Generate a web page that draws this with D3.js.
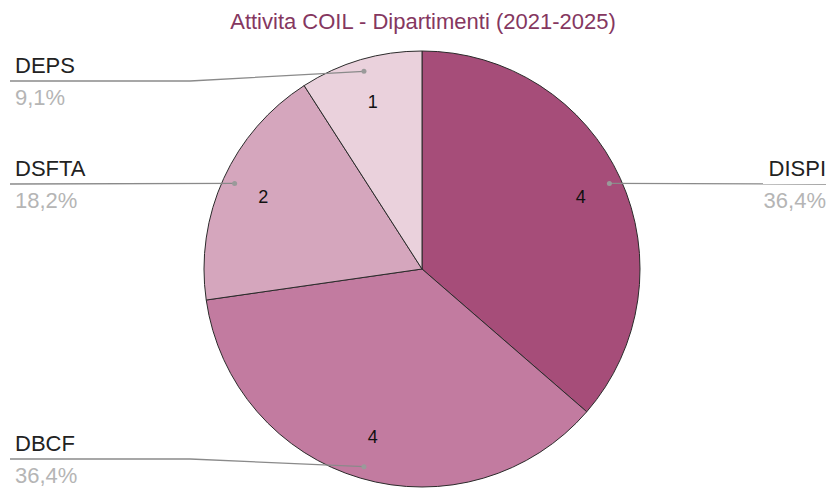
<!DOCTYPE html>
<html>
<head>
<meta charset="utf-8">
<script src="https://cdn.jsdelivr.net/npm/d3@7"></script>
<style>
  body { margin: 0; background: #fff; }
  svg { display: block; font-family: "Liberation Sans", Arial, sans-serif; }
</style>
</head>
<body>
<div id="chart"></div>
<script>
"use strict"

// data
let categories = ["DISPI", "DBCF", "DSFTA", "DEPS"];
let values = [4, 4, 2, 1];
let colors = ["#a64d79", "#c27ba0", "#d5a6bd", "#ead1dc"];
let title = "Attivita COIL - Dipartimenti (2021-2025)";

let width = 831, height = 488;
let cx = 422, cy = 269, radius = 218;

let drawing = d3.select("#chart")
    .append("svg")
    .attr("width", width)
    .attr("height", height);

/* title */
drawing.append("text")
    .attr("x", 423)
    .attr("y", 29)
    .attr("text-anchor", "middle")
    .attr("font-size", 22)
    .attr("fill", "#85375f")
    .text(title);

let total = d3.sum(values);
let pie = d3.pie().sort(null).value(d => d);
let arcs = pie(values);

let arc = d3.arc().innerRadius(0).outerRadius(radius);
let labelArc = d3.arc().innerRadius(radius * 0.8).outerRadius(radius * 0.8);
let dotArc = d3.arc().innerRadius(radius - 12).outerRadius(radius - 12);

let pieGroup = drawing.append("g")
    .attr("transform", "translate(" + cx + "," + cy + ")");

pieGroup.selectAll("path")
    .data(arcs)
    .enter()
    .append("path")
    .attr("d", arc)
    .attr("fill", (d, i) => colors[i])
    .attr("stroke", "#2b2b2b")
    .attr("stroke-width", 1);

/* value inside slices */
pieGroup.selectAll("text.val")
    .data(arcs)
    .enter()
    .append("text")
    .attr("class", "val")
    .attr("x", d => labelArc.centroid(d)[0])
    .attr("y", d => labelArc.centroid(d)[1])
    .attr("dy", "0.35em")
    .attr("text-anchor", "middle")
    .attr("font-size", 18)
    .attr("fill", "#111")
    .text(d => d.value);

/* label rows: y of the underline and which side */
let labelRows = {
    "DISPI": { y: 184, side: "right" },
    "DBCF": { y: 459, side: "left" },
    "DSFTA": { y: 184, side: "left" },
    "DEPS": { y: 81, side: "left" }
};

arcs.forEach(function (d, i) {
    let name = categories[i];
    let row = labelRows[name];
    let p = dotArc.centroid(d);
    let dotX = cx + p[0], dotY = cy + p[1];
    let pct = (d.value / total * 100).toFixed(1).replace(".", ",") + "%";

    let pts;
    if (row.side === "right") {
        pts = [[dotX, dotY], [826, row.y]];
    } else if (Math.abs(dotY - row.y) < 3) {
        pts = [[10, row.y], [dotX, dotY]];
    } else {
        pts = [[10, row.y], [190, row.y], [dotX, dotY]];
    }

    drawing.append("path")
        .attr("d", d3.line()(pts))
        .attr("fill", "none")
        .attr("stroke", "#8a8a8a")
        .attr("stroke-width", 1.3);

    drawing.append("circle")
        .attr("cx", dotX)
        .attr("cy", dotY)
        .attr("r", 2.5)
        .attr("fill", "#9a9a9a");

    let tx = row.side === "right" ? 826 : 15;
    let anchor = row.side === "right" ? "end" : "start";

    drawing.append("text")
        .attr("x", tx)
        .attr("y", row.y - 8)
        .attr("text-anchor", anchor)
        .attr("font-size", 22)
        .attr("fill", "#222")
        .text(name);

    drawing.append("text")
        .attr("x", tx)
        .attr("y", row.y + 24)
        .attr("text-anchor", anchor)
        .attr("font-size", 22)
        .attr("fill", "#b5b5b5")
        .text(pct);
});
</script>
</body>
</html>
